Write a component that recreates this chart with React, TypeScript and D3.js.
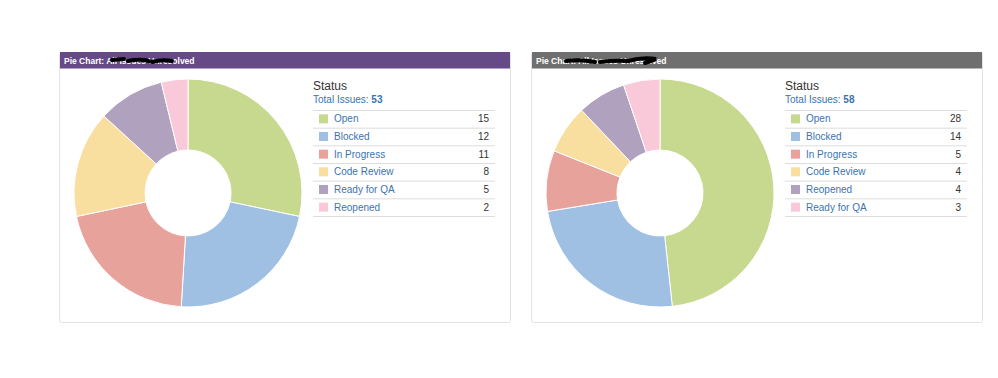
import React from "react";
import * as d3 from "d3";

const statusA = ["Open", "Blocked", "In Progress", "Code Review", "Ready for QA", "Reopened"];
const valuesA = [15, 12, 11, 8, 5, 2];
const statusB = ["Open", "Blocked", "In Progress", "Code Review", "Reopened", "Ready for QA"];
const valuesB = [28, 14, 5, 4, 4, 3];
const sliceColors = ["#c7d88f", "#9fc0e2", "#e7a29b", "#f9df9f", "#b0a1bf", "#f9c8d9"];
const titleA = "Pie Chart: All Issues Unresolved";
const titleB = "Pie Chart: All Issues Unresolved";

const FONT = "'Liberation Sans', Arial, sans-serif";

type PanelProps = {
  x: number;
  width: number;
  header: string;
  title: string;
  labels: string[];
  values: number[];
  scribble: string;
};

function Panel({ x, width, header, title, labels, values, scribble }: PanelProps) {
  const top = 52;
  const height = 270;
  const cx = x + 129;
  const cy = 193;
  const pie = d3.pie<number>().sort(null).value((d) => d);
  const arcs = pie(values);
  const arc = d3.arc<d3.PieArcDatum<number>>().innerRadius(43).outerRadius(114);
  const total = d3.sum(values);
  const lx = x + 254;
  const lw = 182;
  const rowY = d3.scaleLinear().domain([0, values.length]).range([110, 216]);
  return (
    <g>
      <rect x={x + 0.5} y={top + 0.5} width={width} height={height} rx={2} fill="#fff" stroke="#e3e3e3" />
      <rect x={x + 1} y={top} width={width - 1} height={16.5} fill={header} />
      <text x={x + 5} y={top + 11.5} fill="#fff" fontSize={8.5} fontWeight="bold" fontFamily={FONT}>
        {title}
      </text>
      <path d={scribble} fill="none" stroke="#000" strokeWidth={4} strokeLinecap="round" />
      <g transform={`translate(${cx},${cy})`}>
        {arcs.map((a, i) => (
          <path key={i} d={arc(a) || ""} fill={sliceColors[i]} stroke="#fff" strokeWidth={1} />
        ))}
      </g>
      <text x={lx} y={90} fontSize={12} fill="#333" fontFamily={FONT}>
        Status
      </text>
      <text x={lx} y={103} fontSize={10} fill="#3b73af" fontFamily={FONT}>
        Total Issues: <tspan fontWeight="bold">{total}</tspan>
      </text>
      {labels.map((l, i) => {
        const y0 = rowY(i);
        const y1 = rowY(i + 1);
        const mid = (y0 + y1) / 2;
        return (
          <g key={l}>
            <line x1={lx} x2={lx + lw} y1={y0 + 0.5} y2={y0 + 0.5} stroke="#ddd" />
            <rect x={lx + 6} y={mid - 4.5} width={9} height={9} fill={sliceColors[i]} />
            <text x={lx + 21} y={mid + 3.5} fontSize={10} fill="#3b73af" fontFamily={FONT}>
              {l}
            </text>
            <text x={lx + lw - 6} y={mid + 3.5} fontSize={10} fill="#333" textAnchor="end" fontFamily={FONT}>
              {values[i]}
            </text>
          </g>
        );
      })}
      <line x1={lx} x2={lx + lw} y1={rowY(values.length) + 0.5} y2={rowY(values.length) + 0.5} stroke="#ddd" />
    </g>
  );
}

export default function App() {
  return (
    <svg width={998} height={378} style={{ display: "block", position: "absolute", left: 0, top: 0 }}>
      <Panel
        x={59}
        width={451}
        header="#654a87"
        title={titleA}
        labels={statusA}
        values={valuesA}
        scribble="M112 60 L124 59 M128 61 Q142 58 152 62 Q162 59 172 61"
      />
      <Panel
        x={531}
        width={451}
        header="#6f6f6f"
        title={titleB}
        labels={statusB}
        values={valuesB}
        scribble="M566 61 Q580 59 595 62 M600 62 Q615 60 628 61 Q642 57 656 59 L645 63"
      />
    </svg>
  );
}
